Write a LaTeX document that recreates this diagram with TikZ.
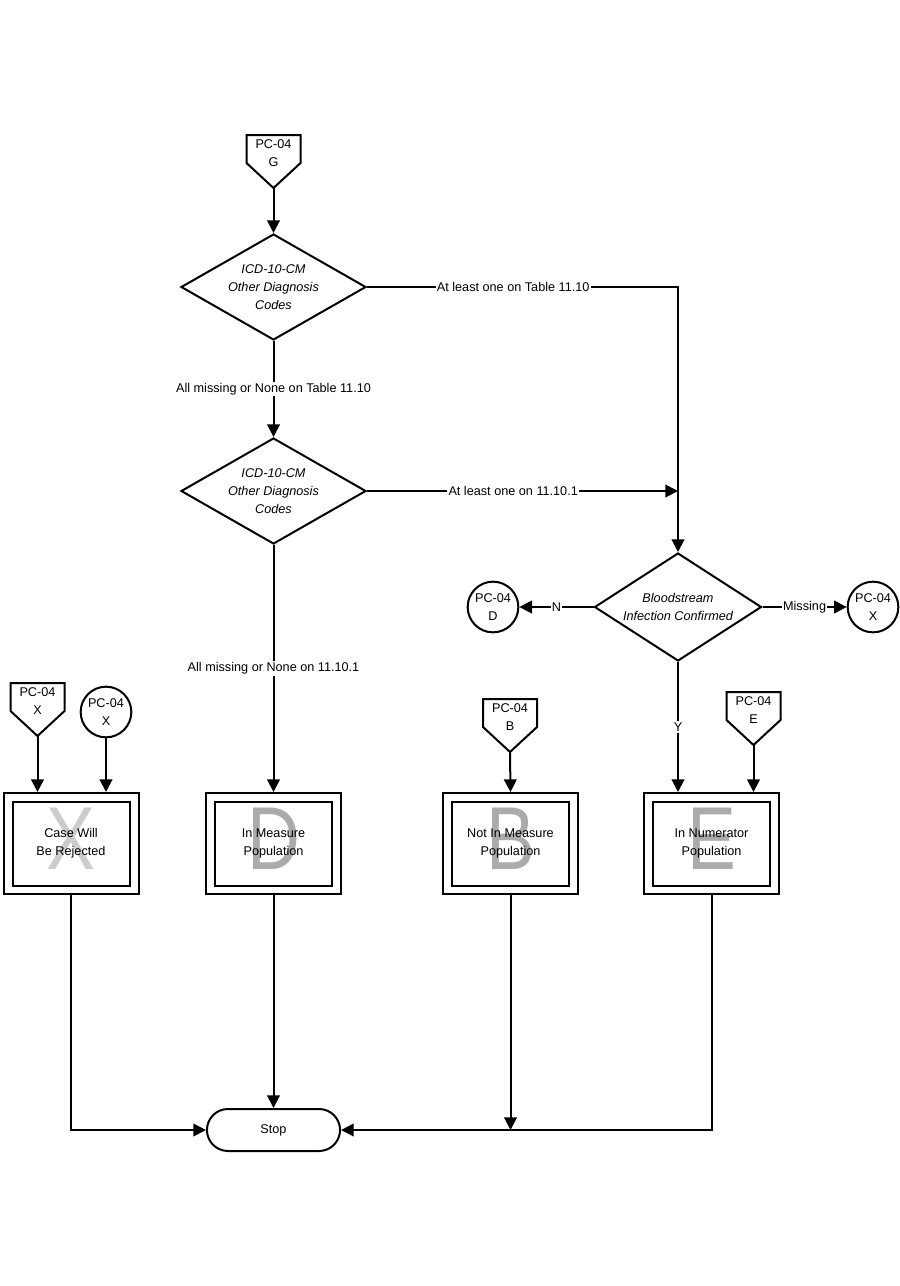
\documentclass[tikz,border=0pt]{standalone}
\usepackage{fontspec}
\setmainfont{Liberation Sans}
\usepackage{graphicx}
\usetikzlibrary{shapes.geometric,shapes.misc,arrows.meta}

\newcommand{\flowfont}{\fontsize{9.5}{13.5}\selectfont}
\newcommand{\bigfont}{\fontsize{67}{67}\selectfont}

\tikzset{
  flow/.style={line width=1.5pt},
  arr/.style={flow,-{Triangle[length=9.5pt,width=9.5pt]}},
  decision/.style={diamond,draw,flow,inner sep=0pt,aspect=1.75,align=center,
    font=\flowfont\itshape,minimum width=138.75pt,minimum height=79.5pt},
  connector/.style={circle,draw,flow,inner sep=0pt,minimum size=38pt,align=center,font=\flowfont},
  outerbox/.style={rectangle,draw,flow,minimum width=101.25pt,minimum height=75.75pt},
  innerbox/.style={rectangle,draw,flow,minimum width=87.75pt,minimum height=63pt,align=center,font=\flowfont},
  bigletter/.style={inner sep=0pt,font=\bigfont},
  terminal/.style={rounded rectangle,draw,flow,minimum width=106.5pt,minimum height=31.5pt,font=\flowfont},
  lbl/.style={fill=white,inner sep=1pt,font=\flowfont},
  offtext/.style={inner sep=0pt,align=center,font=\flowfont}
}

% off-page connector: name, x, top, letter
\newcommand{\offpage}[4]{%
  \draw[flow] (#2-27,#3) -- (#2+27,#3) -- (#2+27,#3+28) -- (#2,#3+53) -- (#2-27,#3+28) -- cycle;
  \node[offtext] (#1) at (#2,#3+18.5) {PC-04\\#4};
  \coordinate (#1 tip) at (#2,#3+53);
}

\begin{document}
\begin{tikzpicture}[x=0.75pt,y=0.75pt,yscale=-1,xscale=1]
\useasboundingbox (0,0) rectangle (900,1286);

%Shape: Off-page connectors
\offpage{offG}{273.5}{135}{G}
\offpage{offX}{37.5}{683}{X}
\offpage{offB}{510}{699}{B}
\offpage{offE}{753.5}{692}{E}

%Shape: Diamonds
\node[decision] (dia1) at (273.5,287) {ICD-10-CM\\Other Diagnosis\\Codes};
\node[decision] (dia2) at (273.5,491) {ICD-10-CM\\Other Diagnosis\\Codes};
\node[decision,aspect=1.55,minimum width=125.25pt,minimum height=81pt] (dia3) at (678,607) {Bloodstream\\Infection Confirmed};

%Shape: Circles
\node[connector] (cirD) at (493,607) {PC-04\\D};
\node[connector] (cirXr) at (873,607) {PC-04\\X};
\node[connector] (cirXl) at (106,712) {PC-04\\X};

%Shape: Outcome boxes
\node[bigletter,text=black!20] (bigX) at (71,839) {\scalebox{0.82}[1]{X}};
\node[outerbox] (boxX) at (71,843.5) {};
\node[innerbox] (boxXin) at (boxX) {Case Will\\Be Rejected};

\node[bigletter,text=black!33] (bigD) at (273.5,839) {\scalebox{0.82}[1]{D}};
\node[outerbox] (boxD) at (273.5,843.5) {};
\node[innerbox] (boxDin) at (boxD) {In Measure\\Population};

\node[bigletter,text=black!33] (bigB) at (510.5,839) {\scalebox{0.82}[1]{B}};
\node[outerbox] (boxB) at (510.5,843.5) {};
\node[innerbox] (boxBin) at (boxB) {Not In Measure\\Population};

\node[bigletter,text=black!33] (bigE) at (711.5,839) {\scalebox{0.82}[1]{E}};
\node[outerbox] (boxE) at (711.5,843.5) {};
\node[innerbox] (boxEin) at (boxE) {In Numerator\\Population};

%Shape: Terminal
\node[terminal] (stop) at (273.5,1130) {Stop};

% Connectors
\draw[arr] (offG tip) -- (dia1.north);
\draw[arr] (dia1.south) -- node[lbl] {All missing or None on Table 11.10} (dia2.north);
\draw[arr] (dia1.east) -| node[lbl,pos=0.235] {At least one on Table 11.10} (dia3.north);
\coordinate (join) at (dia2.east -| dia3.north);
\draw[arr] (dia2.east) -- node[lbl,pos=0.47] {At least one on 11.10.1} (join);
\draw[arr] (dia3.west) -- node[lbl] {N} (cirD);
\draw[arr] (dia3.east) -- node[lbl] {Missing} (cirXr);
\draw[arr] (dia3.south) -- node[lbl] {Y} (dia3.south |- boxE.north);
\draw[arr] (offE tip) -- (offE tip |- boxE.north);
\draw[arr] (offB tip) -- (boxB.north);
\draw[arr] (dia2.south) -- node[lbl] {All missing or None on 11.10.1} (boxD.north);
\draw[arr] (offX tip) -- (offX tip |- boxX.north);
\draw[arr] (cirXl) -- (cirXl |- boxX.north);
\draw[arr] (boxX.south) |- (stop.west);
\draw[arr] (boxD.south) -- (stop.north);
\draw[arr] (boxB.south) -- (boxB.south |- stop.east);
\draw[arr] (boxE.south) |- (stop.east);
\end{tikzpicture}
\end{document}
